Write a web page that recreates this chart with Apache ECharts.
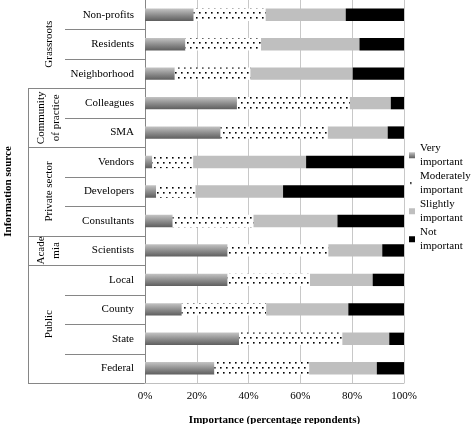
<!DOCTYPE html>
<html>
<head>
<meta charset="utf-8">
<script src="https://cdn.jsdelivr.net/npm/echarts@6/dist/echarts.min.js"></script>
<style>
html,body{margin:0;padding:0;background:#fff;}
#chart{width:471px;height:424px;}
</style>
</head>
<body>
<div id="chart"></div>
<script>
const categories = ['Non-profits','Residents','Neighborhood','Colleagues','SMA','Vendors','Developers','Consultants','Scientists','Local','County','State','Federal'];
const veryImportant = [18.8,15.6,11.5,35.5,29.2,2.8,4.3,10.7,31.9,31.9,14.2,36.3,26.8];
const moderatelyImportant = [27.8,29.2,29.2,43.6,41.4,15.8,15.2,31.2,38.9,31.8,32.6,39.9,36.6];
const slightlyImportant = [30.9,38.0,39.5,15.8,23.1,43.6,33.8,32.4,20.8,24.2,31.7,18.1,26.1];
const notImportant = [22.5,17.2,19.8,5.1,6.3,37.8,46.7,25.7,8.4,12.1,21.5,5.7,10.5];
const seriesNames = ['Very important','Moderately important','Slightly important','Not important'];
const groupNames = ['Grassroots','Community\nof practice','Private sector','Acade\nmia','Public'];
const groupSizes = [3,2,3,1,4];

const FONT = 'Liberation Serif';

// dotted pattern for "Moderately important"
const pc = document.createElement('canvas');
pc.width = 12; pc.height = 10;
const pctx = pc.getContext('2d');
pctx.fillStyle = '#ffffff';
pctx.fillRect(0,0,12,10);
pctx.fillStyle = '#000000';
[[1,2],[7,2],[4,7],[10,7]].forEach(p => pctx.fillRect(p[0],p[1],1.6,1.6));

const gradient = new echarts.graphic.LinearGradient(0,0,0,1,[
  {offset:0,color:'#c4c4c4'},
  {offset:0.55,color:'#8a8a8a'},
  {offset:1,color:'#5e5e5e'}
]);
const colors = [gradient, {image: pc, repeat: 'repeat'}, '#bfbfbf', '#000000'];
const dataSets = [veryImportant, moderatelyImportant, slightlyImportant, notImportant];
const legendShort = {
  'Very important':'Very\nimportant',
  'Moderately important':'Moderately\nimportant',
  'Slightly important':'Slightly\nimportant',
  'Not important':'Not\nimportant'
};

const chart = echarts.init(document.getElementById('chart'), null, {renderer:'canvas'});
const option = {
  animation: false,
  backgroundColor: '#ffffff',
  grid: {left:145, right:67, top:0, bottom:41, containLabel:false, outerBoundsMode:'none'},
  legend: {
    orient: 'vertical',
    left: 409,
    top: 143,
    padding: 0,
    itemWidth: 6,
    itemHeight: 6,
    itemGap: 3.5,
    icon: 'rect',
    data: seriesNames,
    formatter: n => legendShort[n],
    textStyle: {fontFamily: FONT, fontSize: 11, color:'#000', lineHeight: 13.5, height: 13.5}
  },
  xAxis: {
    type: 'value',
    min: 0, max: 100, interval: 20,
    axisLine: {show:true, lineStyle:{color:'#bfbfbf'}},
    axisTick: {show:false},
    splitLine: {show:true, lineStyle:{color:'#c8c8c8', width:1}},
    axisLabel: {formatter:'{value}%', fontFamily: FONT, fontSize: 11, color:'#000', margin: 8},
    name: 'Importance (percentage repondents)',
    nameLocation: 'middle',
    nameGap: 32,
    nameTextStyle: {fontFamily: FONT, fontSize: 11, fontWeight:'bold', color:'#000'}
  },
  yAxis: {
    type: 'category',
    inverse: true,
    data: categories,
    axisLine: {show:true, lineStyle:{color:'#868686'}},
    axisTick: {show:false},
    axisLabel: {fontFamily: FONT, fontSize: 11, color:'#000', margin: 11},
    name: 'Information source',
    nameLocation: 'middle',
    nameRotate: 90,
    nameGap: 131,
    nameTextStyle: {fontFamily: FONT, fontSize: 11, fontWeight:'bold', color:'#000'}
  },
  series: seriesNames.map((name,i) => ({
    name: name,
    type: 'bar',
    stack: 'total',
    barWidth: '42%',
    data: dataSets[i],
    itemStyle: {color: colors[i]}
  }))
};
chart.setOption(option);

// category separators and group labels (decoration computed from the axis)
const graphics = [];
const c0 = chart.convertToPixel({yAxisIndex:0}, 0);
const c1 = chart.convertToPixel({yAxisIndex:0}, 1);
const band = c1 - c0;
const axisX = chart.convertToPixel({xAxisIndex:0}, 0);
const lineStyle = {stroke:'#868686', lineWidth:1};
let idx = 0;
const groupBounds = [];
groupSizes.forEach((size, g) => {
  const top = chart.convertToPixel({yAxisIndex:0}, idx) - band/2;
  for (let k = 1; k < size; k++) {
    const y = Math.round(chart.convertToPixel({yAxisIndex:0}, idx + k) - band/2) + 0.5;
    graphics.push({type:'line', shape:{x1:65, y1:y, x2:axisX, y2:y}, style:lineStyle, silent:true});
  }
  idx += size;
  const bottom = chart.convertToPixel({yAxisIndex:0}, idx - 1) + band/2;
  groupBounds.push([top, bottom]);
  const yb = Math.round(bottom) + 0.5;
  graphics.push({type:'line', shape:{x1:28, y1:yb, x2:axisX, y2:yb}, style:lineStyle, silent:true});
  graphics.push({
    type:'text',
    x: 49, y: (top + bottom)/2,
    rotation: Math.PI/2,
    style: {text: groupNames[g], fontFamily: FONT, fontSize: 11, fill:'#000', align:'center', verticalAlign:'middle', lineHeight: 15},
    silent:true
  });
});
graphics.push({type:'line', shape:{x1:28.5, y1:Math.round(groupBounds[0][1]), x2:28.5, y2:Math.round(groupBounds[groupBounds.length-1][1])+1}, style:lineStyle, silent:true});
chart.setOption({graphic: graphics});
</script>
</body>
</html>
